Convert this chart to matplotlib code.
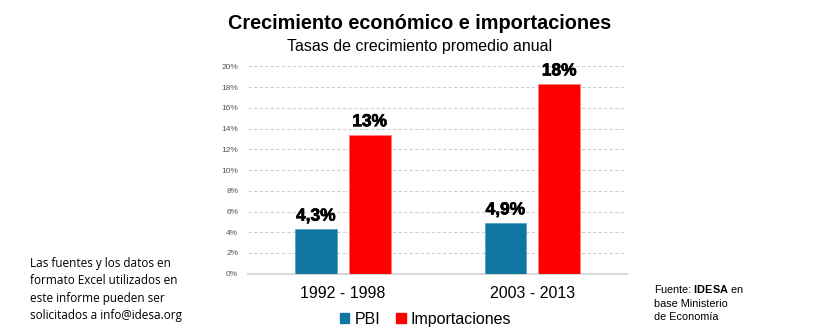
import matplotlib.pyplot as plt
import matplotlib.ticker as ticker
import matplotlib.patheffects as pe
import numpy as np
from matplotlib.patches import Patch

plt.rcParams['font.family'] = ['Liberation Sans', 'DejaVu Sans']
plt.rcParams['mathtext.fontset'] = 'custom'
plt.rcParams['mathtext.bf'] = 'Liberation Sans:bold'
plt.rcParams['mathtext.rm'] = 'Liberation Sans'

periods = ['1992 - 1998', '2003 - 2013']
pbi = [4.3, 4.9]
importaciones = [13.4, 18.3]
pbi_labels = ['4,3%', '4,9%']
imp_labels = ['13%', '18%']
y_ticks = [0, 2, 4, 6, 8, 10, 12, 14, 16, 18, 20]

blue = '#0e76a0'
red = '#ff0000'

fig = plt.figure(figsize=(8.26, 3.31), dpi=100)
ax = fig.add_axes([0.3002, 0.173, 0.459, 0.6266])

x = np.arange(len(periods))
w = 0.22
off = 0.142
b1 = ax.bar(x - off, pbi, w, color=blue, edgecolor='#5ba3c6', linewidth=0.6, zorder=3)
b2 = ax.bar(x + off, importaciones, w, color=red, edgecolor='#ff8080', linewidth=0.6, zorder=3)

# value labels, a thin stroke makes them look heavier like the original
for bars, labs in ((b1, pbi_labels), (b2, imp_labels)):
    for r, lab in zip(bars, labs):
        ax.annotate(lab, (r.get_x() + r.get_width() / 2, r.get_height()),
                    xytext=(0, 4), textcoords='offset points',
                    ha='center', va='bottom', fontsize=12.5, fontweight='bold',
                    color='black', annotation_clip=False,
                    path_effects=[pe.withStroke(linewidth=0.5, foreground='black')])

ax.set_xlim(-0.5, 1.5)
ax.set_ylim(0, 20)
ax.set_yticks(y_ticks)
ax.yaxis.set_major_formatter(ticker.FuncFormatter(lambda v, p: f'{v:.0f}%'))
ax.tick_params(axis='y', length=0, labelsize=6, labelcolor='#555555', pad=7)
ax.set_xticks(x)
ax.set_xticklabels(periods)
ax.tick_params(axis='x', length=0, labelsize=11.5, pad=9)

ax.grid(axis='y', linestyle=(0, (3, 2)), color='#d0d0d0', linewidth=0.8, zorder=0)
for s in ['top', 'right', 'left']:
    ax.spines[s].set_visible(False)
ax.spines['bottom'].set_color('#d9d9d9')
ax.spines['bottom'].set_linewidth(1.5)
ax.spines['bottom'].set_zorder(1)

# titles
fig.text(0.508, 0.93, 'Crecimiento económico e importaciones', ha='center', va='center',
         fontsize=14.3, fontweight='bold')
fig.text(0.508, 0.86, 'Tasas de crecimiento promedio anual', ha='center', va='center',
         fontsize=11.5)

# legend
handles = [Patch(color=blue, label='PBI'), Patch(color=red, label='Importaciones')]
fig.legend(handles=handles, loc='center', bbox_to_anchor=(0.515, 0.035), ncol=2,
           frameon=False, fontsize=11.5, handlelength=0.6, handleheight=0.6,
           handletextpad=0.3, columnspacing=1.0)

# notes
fig.text(0.036, 0.125, 'Las fuentes y los datos en\nformato Excel utilizados en\n'
         'este informe pueden ser\nsolicitados a info@idesa.org',
         ha='left', va='center', fontsize=8.5, linespacing=1.45, family=['Open Sans', 'DejaVu Sans'])
fig.text(0.792, 0.085, 'Fuente: $\\bf{IDESA}$ en\nbase Ministerio\nde Economía',
         ha='left', va='center', fontsize=7.8, linespacing=1.45)

fig.savefig('out.png', dpi=100)
